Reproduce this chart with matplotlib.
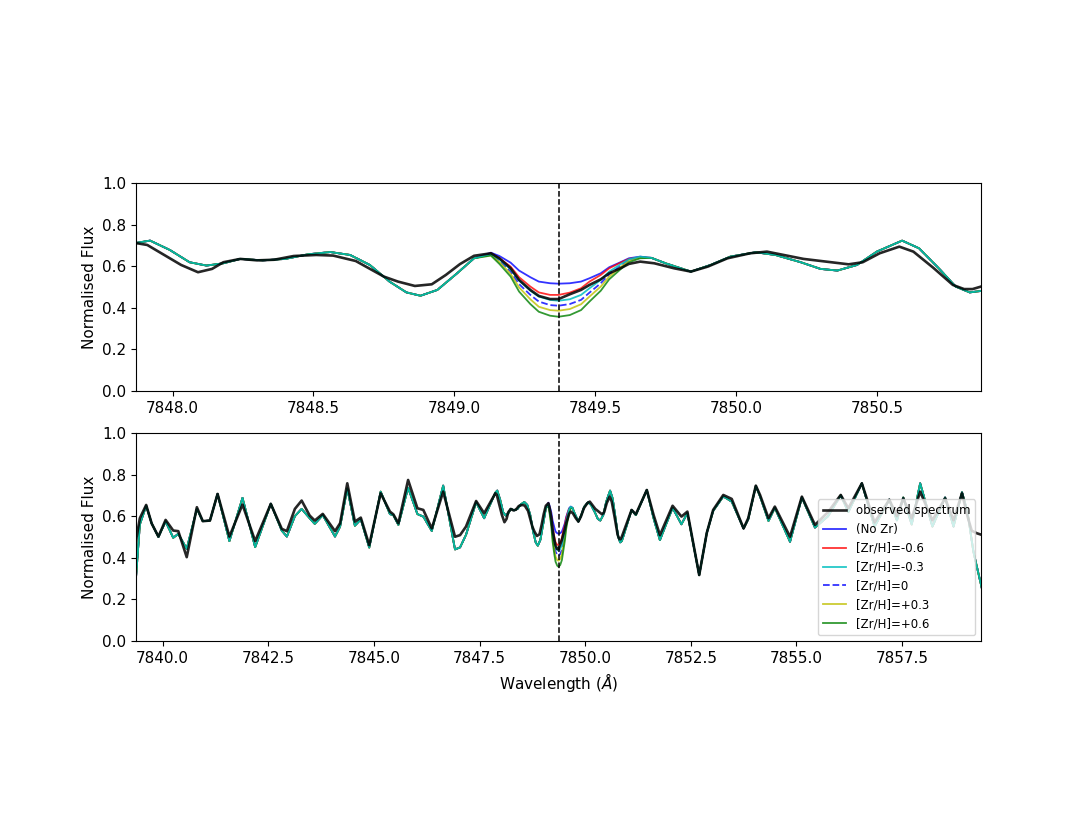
import matplotlib
matplotlib.use('Agg')
import matplotlib.pyplot as plt
from matplotlib.ticker import MultipleLocator, FormatStrFormatter
import numpy as np

# observed spectrum (wavelength in Angstrom, normalised flux)
OBS_WL = [
    7839.37, 7839.46, 7839.61, 7839.74, 7839.90, 7840.07, 7840.25, 7840.37, 7840.57, 7840.81,
    7840.95, 7841.12, 7841.30, 7841.58, 7841.89, 7842.19, 7842.56, 7842.82, 7842.94, 7843.13,
    7843.29, 7843.48, 7843.60, 7843.79, 7844.08, 7844.20, 7844.37, 7844.55, 7844.69, 7844.89,
    7845.16, 7845.38, 7845.46, 7845.58, 7845.81, 7846.03, 7846.17, 7846.37, 7846.64, 7846.92,
    7847.04, 7847.18, 7847.42, 7847.61,
    7847.875, 7847.91, 7847.97, 7848.03, 7848.09, 7848.14, 7848.18, 7848.24, 7848.30, 7848.36,
    7848.43, 7848.51, 7848.57, 7848.65, 7848.75, 7848.80, 7848.86, 7848.92, 7848.97, 7849.02,
    7849.07, 7849.13, 7849.16, 7849.20, 7849.23, 7849.27, 7849.30, 7849.34, 7849.37, 7849.41,
    7849.45, 7849.48, 7849.52, 7849.55, 7849.59, 7849.62, 7849.66, 7849.71, 7849.78, 7849.84,
    7849.90, 7849.97, 7850.05, 7850.11, 7850.17, 7850.24, 7850.32, 7850.40, 7850.45, 7850.51,
    7850.58, 7850.63, 7850.70, 7850.77, 7850.81, 7850.84, 7850.87,
    7851.10, 7851.20, 7851.46, 7851.62, 7851.77, 7852.07, 7852.28, 7852.42, 7852.70, 7852.88,
    7853.03, 7853.27, 7853.47, 7853.75, 7853.86, 7854.04, 7854.14, 7854.34, 7854.49, 7854.85,
    7855.13, 7855.44, 7855.75, 7856.05, 7856.23, 7856.55, 7856.85, 7857.20, 7857.38, 7857.53,
    7857.73, 7857.93, 7858.22, 7858.52, 7858.72, 7858.92, 7859.05, 7859.15, 7859.27, 7859.39,
]
OBS_FLUX = [
    0.483, 0.590, 0.654, 0.565, 0.502, 0.582, 0.531, 0.528, 0.403, 0.643,
    0.576, 0.579, 0.707, 0.502, 0.656, 0.480, 0.659, 0.539, 0.528, 0.635,
    0.675, 0.603, 0.579, 0.611, 0.528, 0.566, 0.758, 0.574, 0.593, 0.461,
    0.710, 0.622, 0.609, 0.566, 0.774, 0.638, 0.630, 0.541, 0.718, 0.501,
    0.509, 0.550, 0.673, 0.614,
    0.710, 0.702, 0.654, 0.606, 0.571, 0.587, 0.619, 0.635, 0.628, 0.631,
    0.649, 0.654, 0.651, 0.625, 0.550, 0.526, 0.505, 0.513, 0.558, 0.610,
    0.650, 0.662, 0.638, 0.590, 0.534, 0.486, 0.457, 0.442, 0.442, 0.465,
    0.486, 0.510, 0.537, 0.566, 0.590, 0.611, 0.622, 0.614, 0.590, 0.574,
    0.598, 0.638, 0.662, 0.670, 0.654, 0.635, 0.622, 0.609, 0.619, 0.662,
    0.694, 0.670, 0.593, 0.510, 0.490, 0.490, 0.502,
    0.630, 0.609, 0.726, 0.606, 0.509, 0.650, 0.598, 0.622, 0.317, 0.520,
    0.630, 0.702, 0.683, 0.541, 0.590, 0.747, 0.702, 0.590, 0.646, 0.501,
    0.694, 0.558, 0.620, 0.702, 0.638, 0.758, 0.570, 0.679, 0.600, 0.686,
    0.590, 0.718, 0.580, 0.686, 0.580, 0.710, 0.600, 0.530, 0.518, 0.510,
]

# synthetic spectrum, common to all models away from the Zr line
MODEL_WL = [
    7839.37, 7839.46, 7839.61, 7839.74, 7839.90, 7840.07, 7840.25, 7840.37, 7840.57, 7840.81,
    7840.95, 7841.12, 7841.30, 7841.58, 7841.89, 7842.19, 7842.56, 7842.82, 7842.94, 7843.13,
    7843.29, 7843.48, 7843.60, 7843.79, 7844.08, 7844.20, 7844.37, 7844.55, 7844.69, 7844.89,
    7845.16, 7845.38, 7845.46, 7845.58, 7845.81, 7846.03, 7846.17, 7846.37, 7846.64, 7846.92,
    7847.04, 7847.18, 7847.42, 7847.61,
    7847.875, 7847.92, 7847.99, 7848.06, 7848.12, 7848.18, 7848.24, 7848.32, 7848.40, 7848.48,
    7848.56, 7848.63, 7848.70, 7848.77, 7848.83, 7848.88, 7848.94, 7849.01, 7849.07,
    7849.70, 7849.75, 7849.84, 7849.91, 7849.98, 7850.07, 7850.14, 7850.23, 7850.30, 7850.36,
    7850.43, 7850.50, 7850.59, 7850.65, 7850.72, 7850.78, 7850.83, 7850.87,
    7851.10, 7851.20, 7851.46, 7851.62, 7851.77, 7852.07, 7852.28, 7852.42, 7852.70, 7852.88,
    7853.03, 7853.27, 7853.47, 7853.75, 7853.86, 7854.04, 7854.14, 7854.34, 7854.49, 7854.85,
    7855.13, 7855.44, 7855.75, 7856.05, 7856.23, 7856.55, 7856.85, 7857.20, 7857.38, 7857.53,
    7857.73, 7857.93, 7858.22, 7858.52, 7858.72, 7858.92, 7859.05, 7859.19, 7859.39,
]
MODEL_FLUX = [
    0.307, 0.560, 0.650, 0.565, 0.500, 0.575, 0.496, 0.515, 0.443, 0.635,
    0.576, 0.579, 0.707, 0.480, 0.688, 0.451, 0.660, 0.530, 0.502, 0.600,
    0.635, 0.590, 0.563, 0.605, 0.502, 0.550, 0.733, 0.554, 0.585, 0.449,
    0.718, 0.610, 0.605, 0.558, 0.737, 0.610, 0.598, 0.529, 0.747, 0.440,
    0.450, 0.510, 0.667, 0.590,
    0.713, 0.723, 0.678, 0.619, 0.603, 0.614, 0.635, 0.628, 0.635, 0.657,
    0.668, 0.654, 0.606, 0.526, 0.474, 0.458, 0.486, 0.566, 0.638,
    0.640, 0.614, 0.574, 0.606, 0.646, 0.667, 0.654, 0.619, 0.587, 0.579,
    0.606, 0.670, 0.723, 0.686, 0.590, 0.502, 0.474, 0.481,
    0.630, 0.605, 0.726, 0.590, 0.485, 0.640, 0.561, 0.615, 0.317, 0.520,
    0.625, 0.695, 0.670, 0.541, 0.585, 0.745, 0.695, 0.577, 0.640, 0.477,
    0.690, 0.545, 0.600, 0.700, 0.620, 0.758, 0.550, 0.680, 0.580, 0.690,
    0.560, 0.758, 0.550, 0.690, 0.550, 0.715, 0.620, 0.430, 0.253,
]

# Zr I line core for each abundance
ZR_LINE = 7849.37
CORE_WL = [7849.13, 7849.16, 7849.20, 7849.23, 7849.27, 7849.30, 7849.34, 7849.37,
           7849.41, 7849.45, 7849.48, 7849.52, 7849.55, 7849.59, 7849.62, 7849.66]
CORE_NO_ZR = [0.665, 0.649, 0.617, 0.579, 0.547, 0.526, 0.518, 0.516,
              0.518, 0.526, 0.542, 0.566, 0.595, 0.619, 0.638, 0.646]
CORE_M06 = [0.662, 0.638, 0.598, 0.547, 0.502, 0.474, 0.462, 0.462,
            0.473, 0.494, 0.526, 0.558, 0.590, 0.617, 0.635, 0.643]
CORE_M03 = [0.659, 0.633, 0.585, 0.531, 0.482, 0.454, 0.438, 0.434,
            0.441, 0.462, 0.494, 0.534, 0.574, 0.609, 0.633, 0.646]
CORE_Z00 = [0.657, 0.627, 0.574, 0.514, 0.462, 0.430, 0.413, 0.410,
            0.418, 0.438, 0.473, 0.518, 0.561, 0.601, 0.630, 0.643]
CORE_P03 = [0.654, 0.620, 0.563, 0.498, 0.441, 0.405, 0.389, 0.386,
            0.394, 0.417, 0.454, 0.502, 0.550, 0.595, 0.627, 0.641]
CORE_P06 = [0.651, 0.611, 0.550, 0.478, 0.418, 0.381, 0.362, 0.357,
            0.365, 0.389, 0.430, 0.482, 0.537, 0.585, 0.619, 0.638]

LABELS = ['(No Zr)', '[Zr/H]=-0.6', '[Zr/H]=-0.3', '[Zr/H]=0', '[Zr/H]=+0.3', '[Zr/H]=+0.6']
CORES = [CORE_NO_ZR, CORE_M06, CORE_M03, CORE_Z00, CORE_P03, CORE_P06]
COLORS = ['b', 'r', 'c', 'b', 'y', 'g']
STYLES = ['-', '-', '-', '--', '-', '-']
DRAW_ORDER = [0, 1, 3, 4, 5, 2]  # cyan ends up on top where the models agree


def model_spectrum(core_flux):
    wl = np.concatenate([MODEL_WL, CORE_WL])
    fl = np.concatenate([MODEL_FLUX, core_flux])
    order = np.argsort(wl)
    return wl[order], fl[order]


def draw_panel(ax):
    handles = {}
    for i in DRAW_ORDER:
        wl, fl = model_spectrum(CORES[i])
        alpha = 0.85 if COLORS[i] == 'c' else 0.8
        line, = ax.plot(wl, fl, color=COLORS[i], ls=STYLES[i], lw=1.3,
                        alpha=alpha, label=LABELS[i])
        handles[i] = line
    obs, = ax.plot(OBS_WL, OBS_FLUX, color='k', lw=1.9, alpha=0.85,
                   label='observed spectrum')
    ax.axvline(ZR_LINE, color='k', ls='--', lw=1.1)
    ax.set_ylim(0, 1)
    ax.yaxis.set_major_locator(MultipleLocator(0.2))
    ax.set_ylabel('Normalised Flux', fontsize=11)
    ax.tick_params(labelsize=11)
    return [obs] + [handles[i] for i in range(len(LABELS))]


fig = plt.figure(figsize=(10.9, 8.18), dpi=100)
ax_top = fig.add_axes([0.1248, 0.522, 0.7752, 0.2543])
ax_bot = fig.add_axes([0.1248, 0.2164, 0.7752, 0.2543])

draw_panel(ax_top)
ax_top.set_xlim(7847.87, 7850.87)
ax_top.xaxis.set_major_locator(MultipleLocator(0.5))
ax_top.xaxis.set_major_formatter(FormatStrFormatter('%.1f'))

handles = draw_panel(ax_bot)
ax_bot.set_xlim(7839.37, 7859.37)
ax_bot.xaxis.set_major_locator(MultipleLocator(2.5))
ax_bot.xaxis.set_major_formatter(FormatStrFormatter('%.1f'))
ax_bot.set_xlabel(r'Wavelength ($\AA$)', fontsize=11)
ax_bot.legend(handles=handles, loc='lower right', fontsize=8.5)

fig.savefig('out.png', dpi=100)
